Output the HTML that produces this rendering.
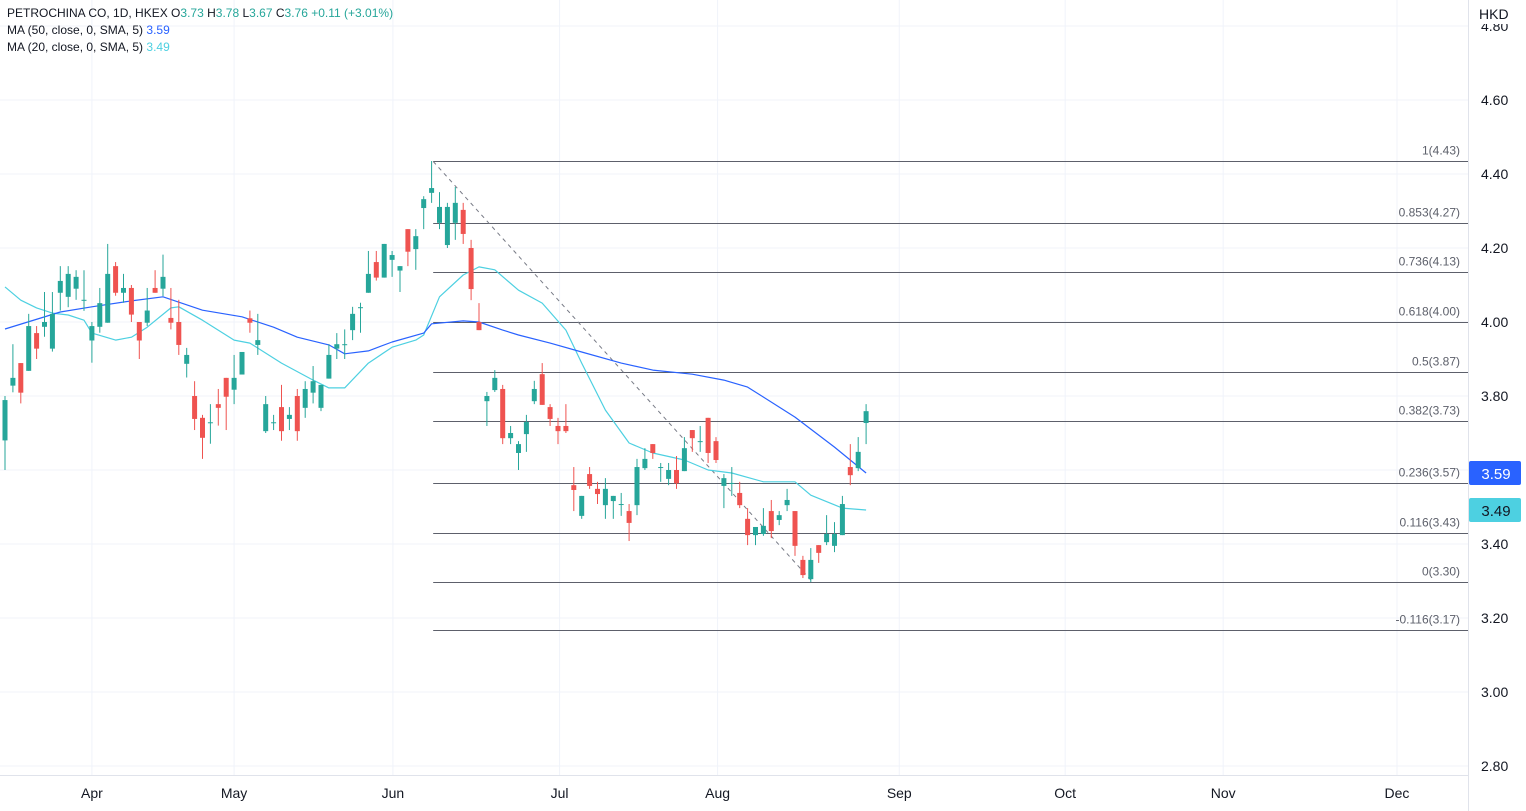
<!DOCTYPE html>
<html><head><meta charset="utf-8"><style>
body{margin:0;background:#fff;font-family:"Liberation Sans",sans-serif;}
svg{display:block}
.t{font-family:"Liberation Sans",sans-serif}
</style></head><body>
<svg id="c" width="1526" height="811" xmlns="http://www.w3.org/2000/svg">
<rect x="0" y="0" width="1526" height="811" fill="#fff"/>
<g id="grid"></g>
<g id="fib"></g>
<g id="ma"></g>
<g id="candles"></g>
<g id="axes"></g>
<g font-size="12" class="t">
<text x="7" y="17" fill="#131722">PETROCHINA CO, 1D, HKEX  <tspan fill="#131722">O</tspan><tspan fill="#26a69a">3.73</tspan>  <tspan fill="#131722">H</tspan><tspan fill="#26a69a">3.78</tspan>  <tspan fill="#131722">L</tspan><tspan fill="#26a69a">3.67</tspan>  <tspan fill="#131722">C</tspan><tspan fill="#26a69a">3.76</tspan>  <tspan fill="#26a69a">+0.11 (+3.01%)</tspan></text>
<text x="7" y="34" fill="#131722">MA (50, close, 0, SMA, 5) <tspan fill="#2962ff">3.59</tspan></text>
<text x="7" y="51" fill="#131722">MA (20, close, 0, SMA, 5) <tspan fill="#4dd0e1">3.49</tspan></text>
</g>
</svg>
<script>
const opens=[3.68,3.828,3.889,3.868,3.970,3.987,3.928,4.079,4.068,4.09,4.06,3.95,3.987,3.998,4.151,4.079,4.092,4.0,3.998,4.092,4.09,4.011,4.0,3.887,3.80,3.741,3.729,3.778,3.849,3.817,3.858,4.01,3.938,3.705,3.729,3.77,3.738,3.80,3.768,3.809,3.768,3.847,3.928,3.94,3.978,4.04,4.079,4.162,4.12,4.168,4.139,4.251,4.197,4.308,4.349,4.268,4.208,4.268,4.303,4.20,4.0,3.786,3.816,3.819,3.686,3.646,3.697,3.786,3.859,3.77,3.719,3.719,3.559,3.476,3.589,3.549,3.505,3.516,3.508,3.489,3.505,3.605,3.67,3.608,3.576,3.60,3.597,3.708,3.678,3.741,3.678,3.557,3.565,3.538,3.468,3.424,3.427,3.489,3.465,3.505,3.489,3.357,3.305,3.397,3.405,3.395,3.424,3.608,3.605,3.727];
const closes=[3.789,3.849,3.809,3.989,3.928,4.0,4.022,4.111,4.13,4.122,4.06,3.989,4.051,4.13,4.079,4.092,4.02,3.95,4.031,4.079,4.122,3.998,3.938,3.911,3.738,3.687,3.729,3.768,3.798,3.849,3.919,3.998,3.951,3.778,3.729,3.705,3.749,3.705,3.819,3.84,3.83,3.911,3.94,3.94,4.022,4.04,4.13,4.12,4.211,4.181,4.151,4.19,4.232,4.332,4.362,4.311,4.311,4.322,4.238,4.089,3.978,3.80,3.849,3.686,3.70,3.67,3.73,3.819,3.776,3.738,3.705,3.705,3.546,3.53,3.557,3.535,3.549,3.53,3.508,3.457,3.608,3.63,3.646,3.608,3.60,3.564,3.659,3.686,3.678,3.646,3.627,3.578,3.565,3.505,3.424,3.446,3.449,3.435,3.478,3.519,3.395,3.316,3.357,3.376,3.427,3.427,3.508,3.586,3.649,3.759];
const highs=[3.80,3.94,3.889,4.022,3.989,4.081,4.081,4.151,4.151,4.14,4.14,4.0,4.092,4.211,4.162,4.13,4.10,4.0,4.092,4.14,4.182,4.092,4.06,3.93,3.84,3.749,3.778,3.819,3.849,3.911,3.919,4.031,4.022,3.80,3.749,3.83,3.77,3.819,3.84,3.881,3.83,3.94,3.97,3.98,4.041,4.052,4.192,4.192,4.211,4.192,4.151,4.251,4.251,4.34,4.435,4.351,4.322,4.365,4.322,4.222,4.051,3.811,3.87,3.83,3.719,3.678,3.749,3.841,3.889,3.778,3.741,3.778,3.608,3.53,3.608,3.568,3.578,3.53,3.538,3.508,3.63,3.659,3.67,3.619,3.619,3.638,3.689,3.708,3.719,3.741,3.689,3.589,3.608,3.568,3.497,3.446,3.497,3.519,3.489,3.549,3.489,3.368,3.389,3.397,3.478,3.459,3.53,3.67,3.689,3.778];
const lows=[3.60,3.81,3.78,3.868,3.90,3.96,3.92,4.031,4.04,4.06,4.03,3.89,3.971,3.998,4.071,4.052,4.0,3.90,3.989,4.079,4.07,3.98,3.911,3.85,3.708,3.63,3.671,3.72,3.708,3.778,3.858,3.971,3.911,3.70,3.708,3.679,3.708,3.679,3.741,3.78,3.759,3.847,3.90,3.90,3.951,3.971,4.079,4.112,4.12,4.122,4.081,4.151,4.141,4.251,4.322,4.251,4.20,4.222,4.211,4.059,3.978,3.719,3.811,3.67,3.67,3.60,3.649,3.778,3.776,3.719,3.67,3.70,3.489,3.468,3.549,3.508,3.468,3.468,3.476,3.408,3.478,3.60,3.63,3.568,3.559,3.549,3.597,3.649,3.649,3.619,3.619,3.497,3.53,3.497,3.397,3.397,3.422,3.416,3.451,3.489,3.368,3.308,3.297,3.349,3.397,3.378,3.424,3.559,3.597,3.67];
const ma50Idx=[0,7,11,16,20,25,30,34,37,41,43,46,49,53,54,58,60,63,65,69,73,78,82,87,91,94,100,105,109];
const ma50Val=[3.981,4.027,4.041,4.057,4.068,4.032,4.014,3.986,3.959,3.938,3.914,3.922,3.946,3.970,3.995,4.003,4.0,3.978,3.965,3.943,3.919,3.889,3.870,3.859,3.843,3.824,3.743,3.662,3.592];
const ma20Idx=[0,2,4,6,8,10,11,14,16,18,21,22,25,29,31,35,39,41,43,46,49,52,53,55,58,60,62,65,68,71,73,76,79,82,86,89,92,96,100,102,106,109];
const ma20Val=[4.095,4.059,4.038,4.024,4.019,4.005,3.970,3.951,3.959,3.986,4.038,4.041,4.005,3.951,3.943,3.889,3.843,3.822,3.822,3.889,3.932,3.951,3.965,4.068,4.127,4.149,4.141,4.086,4.051,3.978,3.889,3.762,3.673,3.646,3.627,3.600,3.592,3.568,3.568,3.532,3.497,3.492];
const priceTicks=[4.80,4.60,4.40,4.20,4.00,3.80,3.60,3.40,3.20,3.00,2.80];
const priceLabels=["4.80","4.60","4.40","4.20","4.00","3.80","3.60","3.40","3.20","3.00","2.80"];
const monthLabels=["Apr","May","Jun","Jul","Aug","Sep","Oct","Nov","Dec"];
const monthIdx=[11.0,29.0,49.1,70.2,90.2,113.2,134.2,154.2,176.2];
const fibRatios=[1,0.853,0.736,0.618,0.5,0.382,0.236,0.116,0,-0.116];
const fibHigh=4.434, fibLow=3.298;
const fibStartIdx=54.2, fibEndIdx=102.2;

const NS="http://www.w3.org/2000/svg";
const X=i=>5+i*7.9;
const Y=p=>322-(p-4)*370;
function el(tag,attrs,parent){const e=document.createElementNS(NS,tag);for(const k in attrs)e.setAttribute(k,attrs[k]);parent.appendChild(e);return e;}
const grid=document.getElementById('grid'),axes=document.getElementById('axes'),fib=document.getElementById('fib'),ma=document.getElementById('ma'),cg=document.getElementById('candles');

let b=el('rect',{x:1469,y:0,width:57,height:811,fill:'#fff'},axes);
priceTicks.forEach((p,k)=>{
  const l=el('line',{x1:0,x2:1468,y1:Y(p),y2:Y(p),stroke:'#f0f3fa','stroke-width':1},grid);
  
  
  const t=el('text',{x:1481,y:Y(p)+5,'font-size':14,fill:'#131722',class:'t'},axes);
  t.textContent=priceLabels[k];
  
  
});
monthIdx.forEach((m,k)=>{
  const x=X(m);
  const l=el('line',{x1:x,x2:x,y1:0,y2:775,stroke:'#f0f3fa','stroke-width':1},grid);
  
  
  const t=el('text',{x:x,y:798,'font-size':14,fill:'#131722','text-anchor':'middle',class:'t'},axes);
  t.textContent=monthLabels[k];
  
  
});
b=el('rect',{x:1469,y:0,width:57,height:24,fill:'#fff'},axes);
b=el('line',{x1:1468.5,x2:1468.5,y1:0,y2:811,stroke:'#e0e3eb'},axes);
b=el('line',{x1:0,x2:1468,y1:775.5,y2:775.5,stroke:'#e0e3eb'},axes);
let ht=el('text',{x:1479,y:19,'font-size':14,fill:'#131722',class:'t'},axes);ht.textContent='HKD';

const fx1=X(fibStartIdx);
fibRatios.forEach(r=>{
  const v=fibLow+(fibHigh-fibLow)*r;
  const y=Math.round(Y(v))+0.5;
  const l=el('line',{x1:fx1,x2:1468,y1:y,y2:y,stroke:'#5d606b','stroke-width':1},fib);
  
  
  const t=el('text',{x:1460,y:y-7,'font-size':12,fill:'#5d606b','text-anchor':'end',class:'t'},fib);
  t.textContent=r+'('+v.toFixed(2)+')';
  
  
});
const tl=el('line',{x1:fx1,y1:Y(fibHigh),x2:X(fibEndIdx),y2:Y(fibLow),stroke:'#787b86','stroke-width':1,'stroke-dasharray':'4,4'},fib);



function maPath(idx,val,color,name){
  const d=idx.map((i,k)=>(k?'L':'M')+X(i).toFixed(1)+','+Y(val[k]).toFixed(1)).join(' ');
  const p=el('path',{d:d,fill:'none',stroke:color,'stroke-width':1.2,'stroke-linejoin':'round'},ma);
  
  
}
maPath(ma20Idx,ma20Val,'#4dd0e1','ma20-line');
maPath(ma50Idx,ma50Val,'#2962ff','ma50-line');

opens.forEach((o,i)=>{
  const c=closes[i],up=c>=o,col=up?'#26a69a':'#ef5350';
  const x=X(i);
  const g=el('g',{},cg);
  
  
  el('line',{x1:x,x2:x,y1:Y(highs[i]),y2:Y(lows[i]),stroke:col,'stroke-width':1},g);
  const top=Y(Math.max(o,c)),bot=Y(Math.min(o,c));
  el('rect',{x:x-2.5,y:top,width:5,height:Math.max(1,bot-top),fill:col},g);
});

function badge(v,col,txtcol,name){
  const y=Y(v);
  const r=el('rect',{x:1469,y:y-12,width:52,height:24,rx:2,fill:col},axes);
  
  
  const t=el('text',{x:1496,y:y+6,'font-size':15,fill:txtcol,'text-anchor':'middle',class:'t'},axes);
  t.textContent=v.toFixed(2);
  
  
}
badge(ma50Val[ma50Val.length-1],'#2962ff','#fff','ma50-price-badge');
badge(ma20Val[ma20Val.length-1],'#4dd0e1','#131722','ma20-price-badge');
</script>
</body></html>
